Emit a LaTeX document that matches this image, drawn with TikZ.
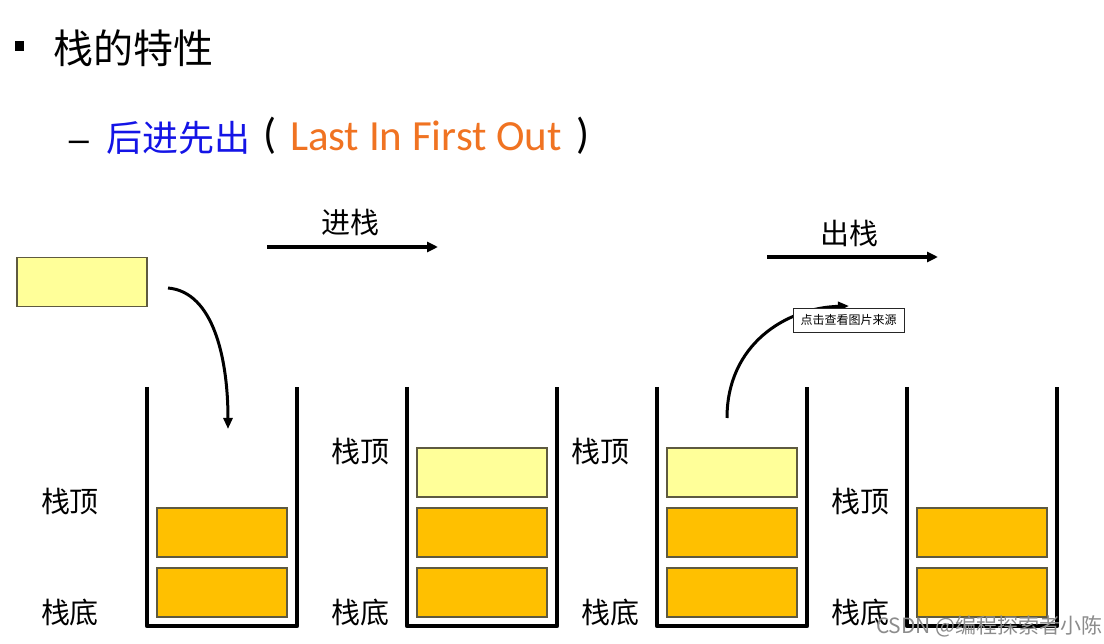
\documentclass[tikz,border=0pt]{standalone}
\usepackage{fontspec}
\setmainfont{Noto Sans CJK SC}
\newfontfamily\cjk{Noto Sans CJK SC}
\newfontfamily\lat{Carlito}
\newfontfamily\lib{Liberation Sans}
\usetikzlibrary{arrows.meta}
\definecolor{lyellow}{HTML}{FFFF99}
\definecolor{gold}{HTML}{FFC000}
\definecolor{boxedge}{HTML}{5E5A40}
\definecolor{titleblue}{HTML}{1414E6}
\definecolor{lorange}{HTML}{F07322}
\begin{document}
\begin{tikzpicture}[x=1pt,y=-1pt,
  every node/.style={inner sep=0pt,outer sep=0pt},
  block/.style={draw=boxedge,line width=1.2pt,minimum width=130pt,minimum height=49pt},
  newblock/.style={block,fill=lyellow},
  oldblock/.style={block,fill=gold},
  tub/.style={line width=4.5pt,line join=round},
  lbl/.style={font=\cjk\fontsize{29}{34}\selectfont},
  flow/.style={line width=3.5pt,-{Triangle[length=11pt,width=10pt]}},
  curvy/.style={line width=3pt,-{Triangle[length=11pt,width=9pt]}}]
\useasboundingbox (0,0) rectangle (1104,644);
% heading
\fill (15,41) rectangle (24,51);
\node[anchor=west,font=\cjk\fontsize{40}{46}\selectfont] (title) at (53,48) {栈的特性};
\node[font=\lib\fontsize{36}{42}\selectfont] (dash) at (79,146) {–};
\node[anchor=west,font=\cjk\fontsize{36}{42}\selectfont,text=titleblue] (lifo) at (106,138) {后进先出};
\node[font=\lat\fontsize{43}{50}\selectfont] (lp) at (270,136) {(};
\node[anchor=west,font=\lat\fontsize{43}{50}\selectfont,text=lorange] (eng) at (290,136) {Last In First Out};
\node[font=\lat\fontsize{43}{50}\selectfont] (rp) at (583,136) {)};
% push / pop captions
\node[lbl] (push) at (350,222) {进栈};
\coordinate (pushA) at (267,247);
\coordinate (pushB) at (438,247);
\draw[flow] (pushA) -- (pushB);
\node[lbl] (pop) at (849,233) {出栈};
\coordinate (popA) at (767,257);
\coordinate (popB) at (938,257);
\draw[flow] (popA) -- (popB);
% containers
\draw[tub] (147,387) -- (147,626) -- (297,626) -- (297,387);
\draw[tub] (407,387) -- (407,626) -- (557,626) -- (557,387);
\draw[tub] (657,387) -- (657,626) -- (807,626) -- (807,387);
\draw[tub] (907,387) -- (907,626) -- (1057,626) -- (1057,387);
% new element
\node[newblock] (new) at (82,282) {};
% stack 1
\node[oldblock] (s1a) at (222,592.5) {};
\node[oldblock] (s1b) at (222,532.5) {};
% stack 2
\node[oldblock] (s2a) at (482,592.5) {};
\node[oldblock] (s2b) at (482,532.5) {};
\node[newblock] (s2c) at (482,472.5) {};
% stack 3
\node[oldblock] (s3a) at (732,592.5) {};
\node[oldblock] (s3b) at (732,532.5) {};
\node[newblock] (s3c) at (732,472.5) {};
% stack 4
\node[oldblock] (s4a) at (982,592.5) {};
\node[oldblock] (s4b) at (982,532.5) {};
% labels
\node[lbl] (t1) at (70,502) {栈顶};
\node[lbl] (b1) at (70,612) {栈底};
\node[lbl] (t2) at (360,452) {栈顶};
\node[lbl] (b2) at (360,612) {栈底};
\node[lbl] (t3) at (600,452) {栈顶};
\node[lbl] (b3) at (610,612) {栈底};
\node[lbl] (t4) at (860,502) {栈顶};
\node[lbl] (b4) at (860,612) {栈底};
% curved arrows
\coordinate (inS) at (168,288);
\coordinate (inE) at (228,429);
\draw[curvy] (inS) .. controls (214,292) and (228,360) .. (inE);
\coordinate (outS) at (727,418);
\coordinate (outE) at (849,306);
\draw[curvy] (outS) .. controls (727,345) and (785,308) .. (outE);
% overlay label
\node[draw=black!85,line width=0.8pt,fill=white,minimum width=111pt,minimum height=24pt,font=\cjk\fontsize{12}{14}\selectfont] (src) at (848.5,320) {点击查看图片来源};
% watermark
\node[anchor=west,text=black!45,font=\cjk\fontsize{21}{24}\selectfont] (wm) at (876,626) {CSDN @编程探索者小陈};
\end{tikzpicture}
\end{document}
